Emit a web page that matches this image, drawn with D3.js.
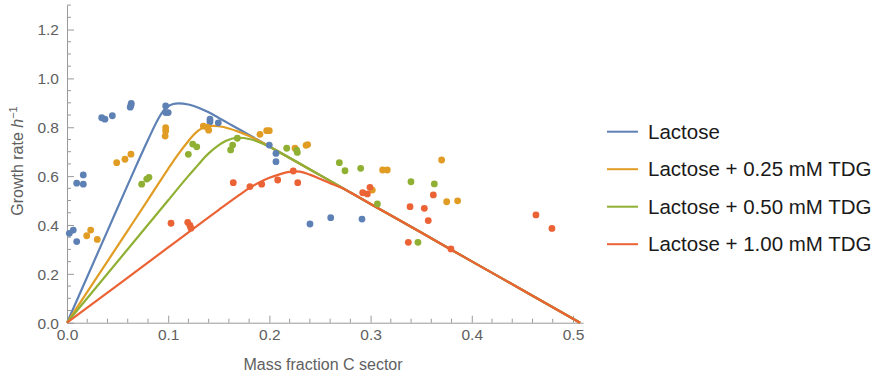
<!DOCTYPE html>
<html><head><meta charset="utf-8">
<script src="https://cdn.jsdelivr.net/npm/d3@7"></script>
<style>
html,body{margin:0;padding:0;background:#fff;}
svg{display:block;font-family:"Liberation Sans",Arial,sans-serif;}
</style></head>
<body>
<svg id="chart" width="874" height="378"></svg>
<script>
// ---------- data ----------
const seriesNames = ["Lactose", "Lactose + 0.25 mM TDG", "Lactose + 0.50 mM TDG", "Lactose + 1.00 mM TDG"];
const seriesColors = ["#5E81B5", "#E19C24", "#8FB032", "#EB6235"];

// measured points (mass fraction, growth rate)
const lactoseX = [0.0023,0.0062,0.0096,0.0096,0.0161,0.0161,0.0343,0.0375,0.0448,0.0625,0.0632,0.0635,0.0975,0.0975,0.1000,0.1413,0.1413,0.1495,0.1999,0.2065,0.2065,0.2401,0.2606,0.2915];
const lactoseY = [0.366,0.379,0.332,0.571,0.567,0.605,0.839,0.833,0.847,0.882,0.890,0.898,0.887,0.860,0.860,0.833,0.823,0.818,0.727,0.693,0.659,0.404,0.430,0.424];

const tdg025X = [0.0195,0.0234,0.0299,0.0491,0.0573,0.0632,0.0975,0.0975,0.0970,0.1347,0.1385,0.1400,0.1907,0.1973,0.1999,0.2253,0.2362,0.2378,0.3119,0.3165,0.3702,0.3017,0.3752,0.3860];
const tdg025Y = [0.356,0.379,0.341,0.655,0.669,0.690,0.798,0.785,0.764,0.805,0.800,0.788,0.771,0.786,0.786,0.714,0.726,0.729,0.625,0.625,0.666,0.543,0.495,0.499];

const tdg050X = [0.0738,0.0788,0.0810,0.1242,0.1282,0.1199,0.1617,0.1637,0.1683,0.2171,0.2270,0.2276,0.2691,0.2747,0.2902,0.3067,0.3399,0.3630,0.3468];
const tdg050Y = [0.567,0.588,0.595,0.731,0.720,0.689,0.707,0.727,0.755,0.714,0.706,0.697,0.655,0.622,0.632,0.486,0.577,0.568,0.329];

const tdg100X = [0.1028,0.1193,0.1215,0.1225,0.1643,0.1808,0.1924,0.2082,0.2236,0.2280,0.2994,0.2922,0.2968,0.3390,0.3531,0.3620,0.3570,0.3373,0.3794,0.4634,0.4792];
const tdg100Y = [0.407,0.411,0.398,0.387,0.573,0.557,0.567,0.584,0.621,0.573,0.554,0.532,0.527,0.475,0.468,0.523,0.418,0.329,0.302,0.441,0.386];

// fitted curves
const lactoseFitX = [0,0.04,0.06,0.08,0.09,0.095,0.10,0.105,0.11,0.12,0.13,0.14,0.15,0.16,0.17,0.20,0.25,0.30,0.35,0.40,0.45,0.507];
const lactoseFitY = [0,0.376,0.564,0.748,0.833,0.866,0.886,0.895,0.898,0.893,0.880,0.861,0.838,0.815,0.792,0.721,0.604,0.486,0.369,0.251,0.134,0];

const tdg025FitX = [0,0.06,0.08,0.10,0.11,0.12,0.125,0.13,0.135,0.14,0.145,0.15,0.16,0.17,0.18,0.19,0.20,0.25,0.30,0.35,0.40,0.45,0.507];
const tdg025FitY = [0,0.377,0.503,0.630,0.690,0.744,0.768,0.787,0.799,0.805,0.806,0.804,0.795,0.781,0.764,0.744,0.721,0.604,0.486,0.369,0.251,0.134,0];

const tdg050FitX = [0,0.08,0.10,0.12,0.13,0.135,0.14,0.15,0.155,0.16,0.165,0.17,0.18,0.19,0.20,0.21,0.25,0.30,0.35,0.40,0.45,0.507];
const tdg050FitY = [0,0.401,0.501,0.601,0.648,0.672,0.693,0.727,0.740,0.749,0.755,0.757,0.752,0.739,0.720,0.698,0.604,0.486,0.369,0.251,0.134,0];

const tdg100FitX = [0,0.10,0.15,0.17,0.18,0.19,0.20,0.21,0.22,0.225,0.23,0.24,0.25,0.26,0.27,0.28,0.30,0.35,0.40,0.45,0.507];
const tdg100FitY = [0,0.308,0.462,0.522,0.551,0.574,0.593,0.607,0.617,0.619,0.618,0.606,0.589,0.571,0.554,0.533,0.486,0.369,0.251,0.134,0];

const xTicks = [0, 0.1, 0.2, 0.3, 0.4, 0.5];
const yTicks = [0, 0.2, 0.4, 0.6, 0.8, 1.0, 1.2];

// ---------- drawing ----------
const svg = d3.select("#chart");
const x = d3.scaleLinear().domain([0, 0.51]).range([67, 583.1]);
const y = d3.scaleLinear().domain([0, 1.3]).range([322.7, 5.1]);

const axisColor = "#9a9a9a", labelColor = "#606060";

// minor ticks
const xMinor = d3.range(0, 0.5101, 0.02).filter(v => !xTicks.some(t => Math.abs(t - v) < 1e-6));
const yMinor = d3.range(0, 1.3001, 0.05).filter(v => !yTicks.some(t => Math.abs(t - v) < 1e-6));

const gx = svg.append("g").attr("transform", `translate(0,${y(0)})`)
  .call(d3.axisBottom(x).tickValues(xTicks).tickFormat(d3.format(".1f")).tickSizeInner(-7).tickSizeOuter(0).tickPadding(6));
gx.append("g").selectAll("line").data(xMinor).join("line")
  .attr("x1", d => x(d)).attr("x2", d => x(d)).attr("y1", 0).attr("y2", -4);

const gy = svg.append("g").attr("transform", `translate(${x(0)},0)`)
  .call(d3.axisLeft(y).tickValues(yTicks).tickFormat(d3.format(".1f")).tickSizeInner(-7).tickSizeOuter(0).tickPadding(8));
gy.append("g").selectAll("line").data(yMinor).join("line")
  .attr("x1", 0).attr("x2", 4).attr("y1", d => y(d)).attr("y2", d => y(d));

[gx, gy].forEach(g => {
  g.select(".domain").attr("stroke", axisColor).attr("stroke-width", 1);
  g.selectAll("line").attr("stroke", axisColor).attr("stroke-width", 1);
  g.selectAll("text").attr("fill", labelColor).attr("font-size", 15.5).attr("font-family", "Liberation Sans, Arial, sans-serif");
});
gy.selectAll(".tick text").attr("dy", "0.35em");

// axis titles
svg.append("text").attr("x", 323).attr("y", 370).attr("text-anchor", "middle")
  .attr("fill", labelColor).attr("font-size", 16).text("Mass fraction C sector");
const yt = svg.append("text").attr("transform", `translate(23,161) rotate(-90)`)
  .attr("text-anchor", "middle").attr("fill", labelColor).attr("font-size", 16);
yt.append("tspan").text("Growth rate ");
yt.append("tspan").attr("font-style", "italic").text("h");
yt.append("tspan").attr("font-size", 11).attr("dy", -6).text("−1");

// curves
const fits = [[lactoseFitX, lactoseFitY], [tdg025FitX, tdg025FitY], [tdg050FitX, tdg050FitY], [tdg100FitX, tdg100FitY]];
const line = d3.line().x(d => x(d[0])).y(d => y(d[1])).curve(d3.curveMonotoneX);
fits.forEach((f, i) => {
  svg.append("path").datum(d3.zip(f[0], f[1]))
    .attr("d", line).attr("fill", "none").attr("stroke", seriesColors[i])
    .attr("stroke-width", 2.2).attr("stroke-linejoin", "round");
});

// points
const pts = [[lactoseX, lactoseY], [tdg025X, tdg025Y], [tdg050X, tdg050Y], [tdg100X, tdg100Y]];
pts.forEach((p, i) => {
  svg.append("g").selectAll("circle").data(d3.zip(p[0], p[1])).join("circle")
    .attr("cx", d => x(d[0])).attr("cy", d => y(d[1])).attr("r", 3.4)
    .attr("fill", seriesColors[i]);
});

// legend
const lg = svg.append("g");
seriesNames.forEach((name, i) => {
  const yy = 131.7 + i * 37.5;
  lg.append("line").attr("x1", 607).attr("x2", 638).attr("y1", yy).attr("y2", yy)
    .attr("stroke", seriesColors[i]).attr("stroke-width", 2);
  lg.append("text").attr("x", 648).attr("y", yy).attr("dy", "0.35em")
    .attr("fill", "#1a1a1a").attr("font-size", 20.5).text(name);
});
</script>
</body></html>
